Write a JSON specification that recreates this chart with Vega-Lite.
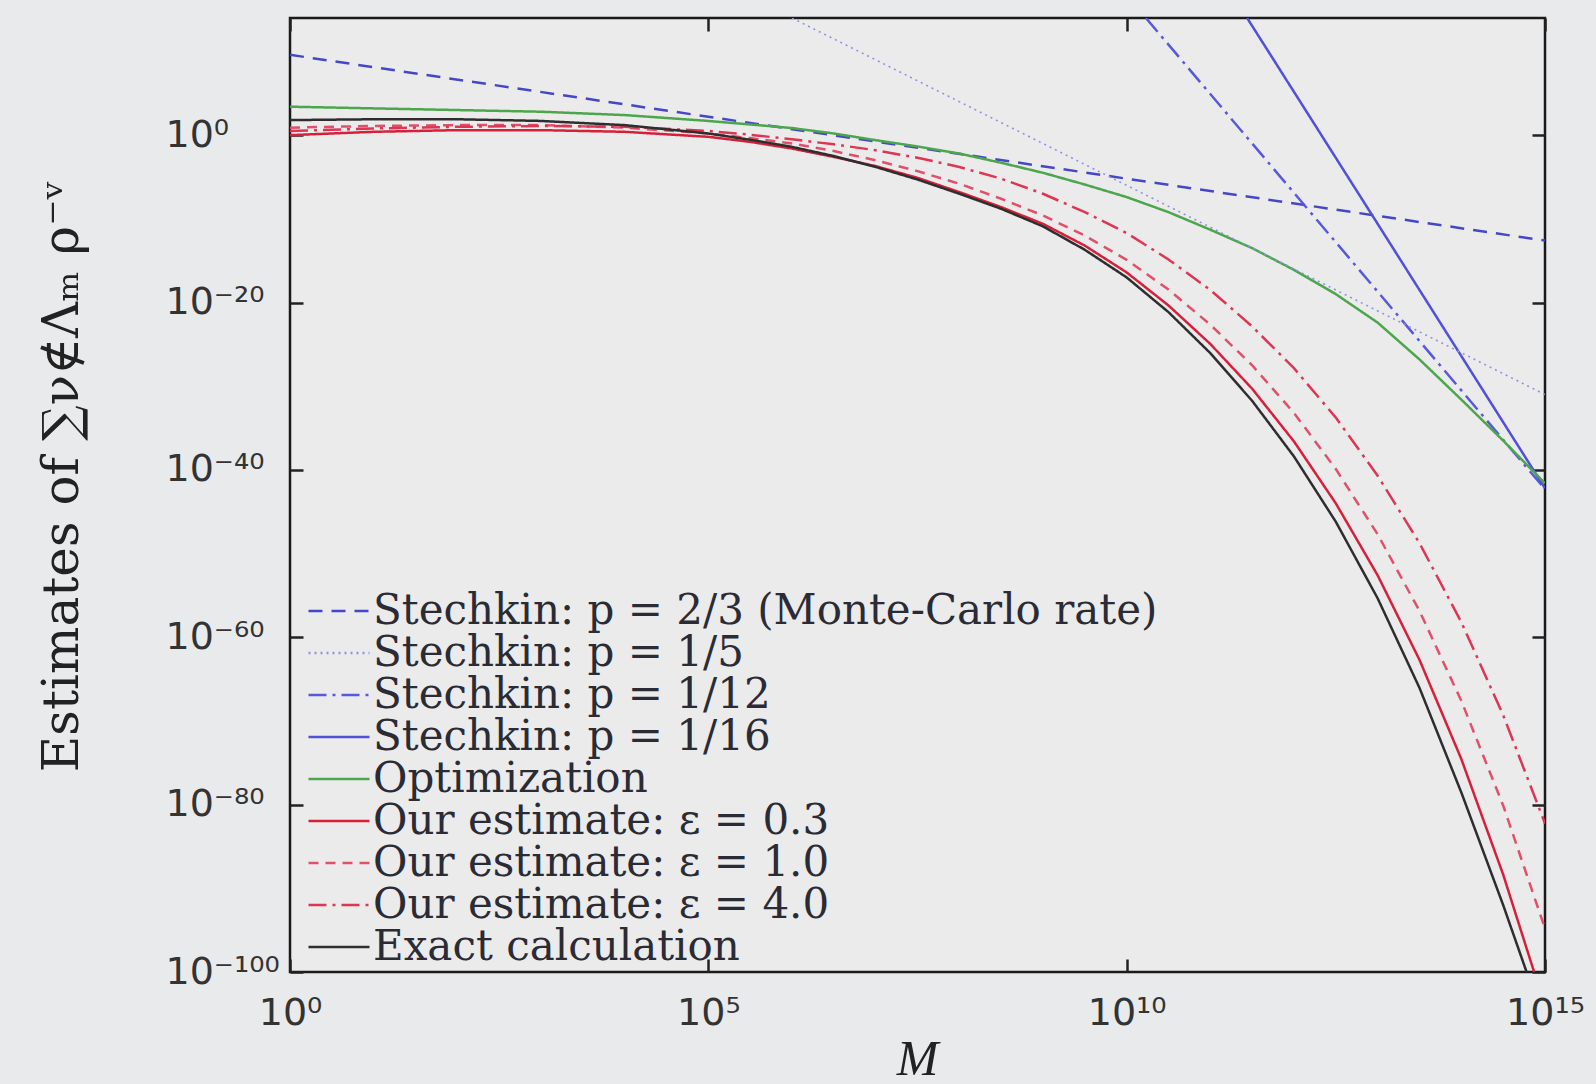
{
  "$schema": "https://vega.github.io/schema/vega-lite/v6.json",
  "width": 1255,
  "height": 954,
  "autosize": {"type": "none"},
  "padding": {"left": 290, "top": 18, "right": 51, "bottom": 112},
  "background": "#e9eaec",
  "data": {"values": [
    {"s": "Stechkin: p = 2/3 (Monte-Carlo rate)", "M": 1, "v": 3.981e9},
    {"s": "Stechkin: p = 2/3 (Monte-Carlo rate)", "M": 1e5, "v": 158.5},
    {"s": "Stechkin: p = 2/3 (Monte-Carlo rate)", "M": 1e10, "v": 6.31e-6},
    {"s": "Stechkin: p = 2/3 (Monte-Carlo rate)", "M": 1e15, "v": 2.512e-13},
    {"s": "Stechkin: p = 1/5", "M": 1e6, "v": 1e14},
    {"s": "Stechkin: p = 1/5", "M": 1e10, "v": 1e-6},
    {"s": "Stechkin: p = 1/5", "M": 1e15, "v": 1e-31},
    {"s": "Stechkin: p = 1/12", "M": 1.698e10, "v": 1e14},
    {"s": "Stechkin: p = 1/12", "M": 1e13, "v": 1.995e-19},
    {"s": "Stechkin: p = 1/12", "M": 1e15, "v": 5.012e-43},
    {"s": "Stechkin: p = 1/16", "M": 2.754e11, "v": 1e14},
    {"s": "Stechkin: p = 1/16", "M": 1e13, "v": 2.512e-11},
    {"s": "Stechkin: p = 1/16", "M": 1e15, "v": 6.31e-43},
    {"s": "Optimization", "M": 1, "v": 2512},
    {"s": "Optimization", "M": 10, "v": 1585},
    {"s": "Optimization", "M": 100, "v": 1000},
    {"s": "Optimization", "M": 1e3, "v": 631},
    {"s": "Optimization", "M": 1e4, "v": 251.2},
    {"s": "Optimization", "M": 1e5, "v": 50.12},
    {"s": "Optimization", "M": 1e6, "v": 7.079},
    {"s": "Optimization", "M": 3.162e6, "v": 1.585},
    {"s": "Optimization", "M": 1e7, "v": 0.2512},
    {"s": "Optimization", "M": 3.162e7, "v": 4.467e-2},
    {"s": "Optimization", "M": 1e8, "v": 6.31e-3},
    {"s": "Optimization", "M": 3.162e8, "v": 5.012e-4},
    {"s": "Optimization", "M": 1e9, "v": 3.162e-5},
    {"s": "Optimization", "M": 3.162e9, "v": 1.259e-6},
    {"s": "Optimization", "M": 1e10, "v": 3.981e-8},
    {"s": "Optimization", "M": 3.162e10, "v": 6.31e-10},
    {"s": "Optimization", "M": 1e11, "v": 5.012e-12},
    {"s": "Optimization", "M": 3.162e11, "v": 3.162e-14},
    {"s": "Optimization", "M": 1e12, "v": 7.943e-17},
    {"s": "Optimization", "M": 3.162e12, "v": 1e-19},
    {"s": "Optimization", "M": 1e13, "v": 3.981e-23},
    {"s": "Optimization", "M": 3.162e13, "v": 1.585e-27},
    {"s": "Optimization", "M": 1e14, "v": 2.512e-32},
    {"s": "Optimization", "M": 3.162e14, "v": 3.162e-37},
    {"s": "Optimization", "M": 1e15, "v": 2.512e-42},
    {"s": "Our estimate: ε = 0.3", "M": 1, "v": 1},
    {"s": "Our estimate: ε = 0.3", "M": 10, "v": 2.512},
    {"s": "Our estimate: ε = 0.3", "M": 100, "v": 3.981},
    {"s": "Our estimate: ε = 0.3", "M": 1e3, "v": 3.981},
    {"s": "Our estimate: ε = 0.3", "M": 1e4, "v": 2.512},
    {"s": "Our estimate: ε = 0.3", "M": 1e5, "v": 0.631},
    {"s": "Our estimate: ε = 0.3", "M": 3.162e5, "v": 0.1585},
    {"s": "Our estimate: ε = 0.3", "M": 1e6, "v": 2.512e-2},
    {"s": "Our estimate: ε = 0.3", "M": 3.162e6, "v": 2.512e-3},
    {"s": "Our estimate: ε = 0.3", "M": 1e7, "v": 1.995e-4},
    {"s": "Our estimate: ε = 0.3", "M": 3.162e7, "v": 7.943e-6},
    {"s": "Our estimate: ε = 0.3", "M": 1e8, "v": 1.585e-7},
    {"s": "Our estimate: ε = 0.3", "M": 3.162e8, "v": 2.512e-9},
    {"s": "Our estimate: ε = 0.3", "M": 1e9, "v": 2.512e-11},
    {"s": "Our estimate: ε = 0.3", "M": 3.162e9, "v": 6.31e-14},
    {"s": "Our estimate: ε = 0.3", "M": 1e10, "v": 3.981e-17},
    {"s": "Our estimate: ε = 0.3", "M": 3.162e10, "v": 4.467e-21},
    {"s": "Our estimate: ε = 0.3", "M": 1e11, "v": 1.122e-25},
    {"s": "Our estimate: ε = 0.3", "M": 3.162e11, "v": 5.012e-31},
    {"s": "Our estimate: ε = 0.3", "M": 1e12, "v": 2.512e-37},
    {"s": "Our estimate: ε = 0.3", "M": 3.162e12, "v": 1e-44},
    {"s": "Our estimate: ε = 0.3", "M": 1e13, "v": 2.512e-53},
    {"s": "Our estimate: ε = 0.3", "M": 3.162e13, "v": 1.995e-63},
    {"s": "Our estimate: ε = 0.3", "M": 1e14, "v": 2.818e-75},
    {"s": "Our estimate: ε = 0.3", "M": 3.162e14, "v": 4.467e-89},
    {"s": "Our estimate: ε = 0.3", "M": 7.413e14, "v": 1e-100},
    {"s": "Our estimate: ε = 1.0", "M": 1, "v": 7.943},
    {"s": "Our estimate: ε = 1.0", "M": 10, "v": 12.59},
    {"s": "Our estimate: ε = 1.0", "M": 100, "v": 15.85},
    {"s": "Our estimate: ε = 1.0", "M": 1e3, "v": 15.85},
    {"s": "Our estimate: ε = 1.0", "M": 1e4, "v": 7.943},
    {"s": "Our estimate: ε = 1.0", "M": 1e5, "v": 1.585},
    {"s": "Our estimate: ε = 1.0", "M": 3.162e5, "v": 0.4467},
    {"s": "Our estimate: ε = 1.0", "M": 1e6, "v": 0.1},
    {"s": "Our estimate: ε = 1.0", "M": 3.162e6, "v": 1.259e-2},
    {"s": "Our estimate: ε = 1.0", "M": 1e7, "v": 1e-3},
    {"s": "Our estimate: ε = 1.0", "M": 3.162e7, "v": 5.012e-5},
    {"s": "Our estimate: ε = 1.0", "M": 1e8, "v": 1.585e-6},
    {"s": "Our estimate: ε = 1.0", "M": 3.162e8, "v": 2.512e-8},
    {"s": "Our estimate: ε = 1.0", "M": 1e9, "v": 2.512e-10},
    {"s": "Our estimate: ε = 1.0", "M": 3.162e9, "v": 1e-12},
    {"s": "Our estimate: ε = 1.0", "M": 1e10, "v": 1.259e-15},
    {"s": "Our estimate: ε = 1.0", "M": 3.162e10, "v": 3.548e-19},
    {"s": "Our estimate: ε = 1.0", "M": 1e11, "v": 2.239e-23},
    {"s": "Our estimate: ε = 1.0", "M": 3.162e11, "v": 3.162e-28},
    {"s": "Our estimate: ε = 1.0", "M": 1e12, "v": 6.31e-34},
    {"s": "Our estimate: ε = 1.0", "M": 3.162e12, "v": 1.259e-40},
    {"s": "Our estimate: ε = 1.0", "M": 1e13, "v": 1.995e-48},
    {"s": "Our estimate: ε = 1.0", "M": 3.162e13, "v": 1.413e-57},
    {"s": "Our estimate: ε = 1.0", "M": 1e14, "v": 2.512e-68},
    {"s": "Our estimate: ε = 1.0", "M": 3.162e14, "v": 7.943e-81},
    {"s": "Our estimate: ε = 1.0", "M": 1e15, "v": 1.585e-95},
    {"s": "Our estimate: ε = 4.0", "M": 1, "v": 3.162},
    {"s": "Our estimate: ε = 4.0", "M": 10, "v": 6.31},
    {"s": "Our estimate: ε = 4.0", "M": 100, "v": 10},
    {"s": "Our estimate: ε = 4.0", "M": 1e3, "v": 12.59},
    {"s": "Our estimate: ε = 4.0", "M": 1e4, "v": 10},
    {"s": "Our estimate: ε = 4.0", "M": 1e5, "v": 3.162},
    {"s": "Our estimate: ε = 4.0", "M": 3.162e5, "v": 1.122},
    {"s": "Our estimate: ε = 4.0", "M": 1e6, "v": 0.3162},
    {"s": "Our estimate: ε = 4.0", "M": 3.162e6, "v": 7.943e-2},
    {"s": "Our estimate: ε = 4.0", "M": 1e7, "v": 1.585e-2},
    {"s": "Our estimate: ε = 4.0", "M": 3.162e7, "v": 1.995e-3},
    {"s": "Our estimate: ε = 4.0", "M": 1e8, "v": 1.585e-4},
    {"s": "Our estimate: ε = 4.0", "M": 3.162e8, "v": 6.31e-6},
    {"s": "Our estimate: ε = 4.0", "M": 1e9, "v": 1e-7},
    {"s": "Our estimate: ε = 4.0", "M": 3.162e9, "v": 6.31e-10},
    {"s": "Our estimate: ε = 4.0", "M": 1e10, "v": 1.995e-12},
    {"s": "Our estimate: ε = 4.0", "M": 3.162e10, "v": 1.413e-15},
    {"s": "Our estimate: ε = 4.0", "M": 1e11, "v": 3.162e-19},
    {"s": "Our estimate: ε = 4.0", "M": 3.162e11, "v": 1.413e-23},
    {"s": "Our estimate: ε = 4.0", "M": 1e12, "v": 1.413e-28},
    {"s": "Our estimate: ε = 4.0", "M": 3.162e12, "v": 1.778e-34},
    {"s": "Our estimate: ε = 4.0", "M": 1e13, "v": 1.995e-41},
    {"s": "Our estimate: ε = 4.0", "M": 3.162e13, "v": 1.778e-49},
    {"s": "Our estimate: ε = 4.0", "M": 1e14, "v": 6.31e-59},
    {"s": "Our estimate: ε = 4.0", "M": 3.162e14, "v": 5.012e-70},
    {"s": "Our estimate: ε = 4.0", "M": 1e15, "v": 5.623e-83},
    {"s": "Exact calculation", "M": 1, "v": 63.1},
    {"s": "Exact calculation", "M": 10, "v": 79.43},
    {"s": "Exact calculation", "M": 100, "v": 79.43},
    {"s": "Exact calculation", "M": 1e3, "v": 50.12},
    {"s": "Exact calculation", "M": 1e4, "v": 15.85},
    {"s": "Exact calculation", "M": 1e5, "v": 1.585},
    {"s": "Exact calculation", "M": 3.162e5, "v": 0.2818},
    {"s": "Exact calculation", "M": 1e6, "v": 3.981e-2},
    {"s": "Exact calculation", "M": 3.162e6, "v": 3.162e-3},
    {"s": "Exact calculation", "M": 1e7, "v": 1.585e-4},
    {"s": "Exact calculation", "M": 3.162e7, "v": 5.012e-6},
    {"s": "Exact calculation", "M": 1e8, "v": 1e-7},
    {"s": "Exact calculation", "M": 3.162e8, "v": 1.585e-9},
    {"s": "Exact calculation", "M": 1e9, "v": 1.259e-11},
    {"s": "Exact calculation", "M": 3.162e9, "v": 1.995e-14},
    {"s": "Exact calculation", "M": 1e10, "v": 1e-17},
    {"s": "Exact calculation", "M": 3.162e10, "v": 7.079e-22},
    {"s": "Exact calculation", "M": 1e11, "v": 8.913e-27},
    {"s": "Exact calculation", "M": 3.162e11, "v": 1.778e-32},
    {"s": "Exact calculation", "M": 1e12, "v": 3.981e-39},
    {"s": "Exact calculation", "M": 3.162e12, "v": 6.31e-47},
    {"s": "Exact calculation", "M": 1e13, "v": 4.467e-56},
    {"s": "Exact calculation", "M": 3.162e13, "v": 8.913e-67},
    {"s": "Exact calculation", "M": 1e14, "v": 2.818e-79},
    {"s": "Exact calculation", "M": 3.162e14, "v": 1e-92},
    {"s": "Exact calculation", "M": 6.026e14, "v": 1e-100}
  ]},
  "layer": [
    {
      "transform": [{"filter": "datum.s !== 'Stechkin: p = 1/5'"}],
      "mark": {"type": "line", "clip": true, "strokeWidth": 2.5},
      "encoding": {
        "x": {"field": "M", "type": "quantitative",
          "scale": {"type": "log", "domain": [1, 1e15], "nice": false},
          "axis": {"orient": "bottom", "values": [1, 1e5, 1e10, 1e15],
            "labelExpr": "datum.value < 10 ? '10⁰' : datum.value < 1e6 ? '10⁵' : datum.value < 1e11 ? '10¹⁰' : '10¹⁵'",
            "title": "M", "titleFont": "Liberation Serif", "titleFontStyle": "italic", "titleFontWeight": "normal", "titleFontSize": 50, "titleColor": "#222",
            "titleX": 627, "titleY": 102, "titleBaseline": "alphabetic", "titleAlign": "center", "titleAnchor": null,
            "labelFont": "DejaVu Sans", "labelFontSize": 38, "labelColor": "#333", "labelPadding": 35, "labelBaseline": "top",
            "labelFlush": false, "labelOverlap": false,
            "tickSize": -13, "tickWidth": 2.5, "tickColor": "#222", "domain": false, "grid": false}},
        "y": {"field": "v", "type": "quantitative",
          "scale": {"type": "log", "domain": [1e-100, 1e14], "nice": false},
          "axis": {"orient": "left", "values": [1e-100, 1e-80, 1e-60, 1e-40, 1e-20, 1],
            "labelExpr": "datum.value > 0.1 ? '10⁰' : datum.value > 1e-21 ? '10⁻²⁰' : datum.value > 1e-41 ? '10⁻⁴⁰' : datum.value > 1e-61 ? '10⁻⁶⁰' : datum.value > 1e-81 ? '10⁻⁸⁰' : '10⁻¹⁰⁰'",
            "title": "Estimates of ∑ν∉Λₘ ρ⁻ᵛ", "titleFont": "DejaVu Serif", "titleFontWeight": "normal", "titleFontSize": 50, "titleColor": "#222",
            "titleAngle": -90, "titleX": -213, "titleY": 458, "titleBaseline": "alphabetic", "titleAlign": "center", "titleAnchor": null,
            "labelFont": "DejaVu Sans", "labelFontSize": 38, "labelColor": "#333", "labelPadding": 138, "labelAlign": "left", "labelBaseline": "middle",
            "labelFlush": false, "labelOverlap": false,
            "tickSize": -13, "tickWidth": 2.5, "tickColor": "#222", "domain": false, "grid": false}},
        "color": {"field": "s", "type": "nominal",
          "scale": {"domain": ["Stechkin: p = 2/3 (Monte-Carlo rate)", "Stechkin: p = 1/5", "Stechkin: p = 1/12", "Stechkin: p = 1/16", "Optimization", "Our estimate: ε = 0.3", "Our estimate: ε = 1.0", "Our estimate: ε = 4.0", "Exact calculation"],
            "range": ["#4646c8", "#8f92e0", "#5858dc", "#5050d8", "#4ca64c", "#d6203a", "#e0506a", "#dd3654", "#2e2e2e"]},
          "legend": {"title": null}},
        "strokeDash": {"field": "s", "type": "nominal",
          "scale": {"domain": ["Stechkin: p = 2/3 (Monte-Carlo rate)", "Stechkin: p = 1/5", "Stechkin: p = 1/12", "Stechkin: p = 1/16", "Optimization", "Our estimate: ε = 0.3", "Our estimate: ε = 1.0", "Our estimate: ε = 4.0", "Exact calculation"],
            "range": [[14, 9], [2, 4], [18, 6, 3, 6], [1, 0], [1, 0], [1, 0], [10, 7], [18, 6, 3, 6], [1, 0]]},
          "legend": {"title": null}}
      }
    },
    {
      "transform": [{"filter": "datum.s === 'Stechkin: p = 1/5'"}],
      "mark": {"type": "line", "clip": true, "strokeWidth": 1.6},
      "encoding": {
        "x": {"field": "M", "type": "quantitative", "axis": null},
        "y": {"field": "v", "type": "quantitative", "axis": null},
        "color": {"field": "s", "type": "nominal", "legend": {"title": null}},
        "strokeDash": {"field": "s", "type": "nominal", "legend": {"title": null}}
      }
    },
    {
      "mark": {"type": "line", "opacity": 0},
      "encoding": {
        "x": {"field": "M", "type": "quantitative",
          "axis": {"orient": "top", "values": [1, 1e5, 1e10, 1e15], "labels": false, "title": null, "tickSize": -13, "tickWidth": 2.5, "tickColor": "#222", "domain": false, "grid": false}},
        "y": {"field": "v", "type": "quantitative",
          "axis": {"orient": "right", "values": [1e-100, 1e-80, 1e-60, 1e-40, 1e-20, 1], "labels": false, "title": null, "tickSize": -13, "tickWidth": 2.5, "tickColor": "#222", "domain": false, "grid": false}},
        "detail": {"field": "s", "type": "nominal"}
      }
    }
  ],
  "resolve": {"axis": {"x": "independent", "y": "independent"}},
  "config": {
    "view": {"stroke": "#1a1a1a", "strokeWidth": 2.5, "fill": "#ebebec"},
    "legend": {"orient": "none", "legendX": 17, "legendY": 574, "padding": 0, "symbolType": "stroke", "symbolSize": 3721, "symbolStrokeWidth": 2.5,
      "labelFont": "DejaVu Serif", "labelFontSize": 42, "labelColor": "#2b2b35", "labelOffset": 2, "rowPadding": 0, "clipHeight": 38, "labelLimit": 0, "symbolOpacity": 1}
  }
}
